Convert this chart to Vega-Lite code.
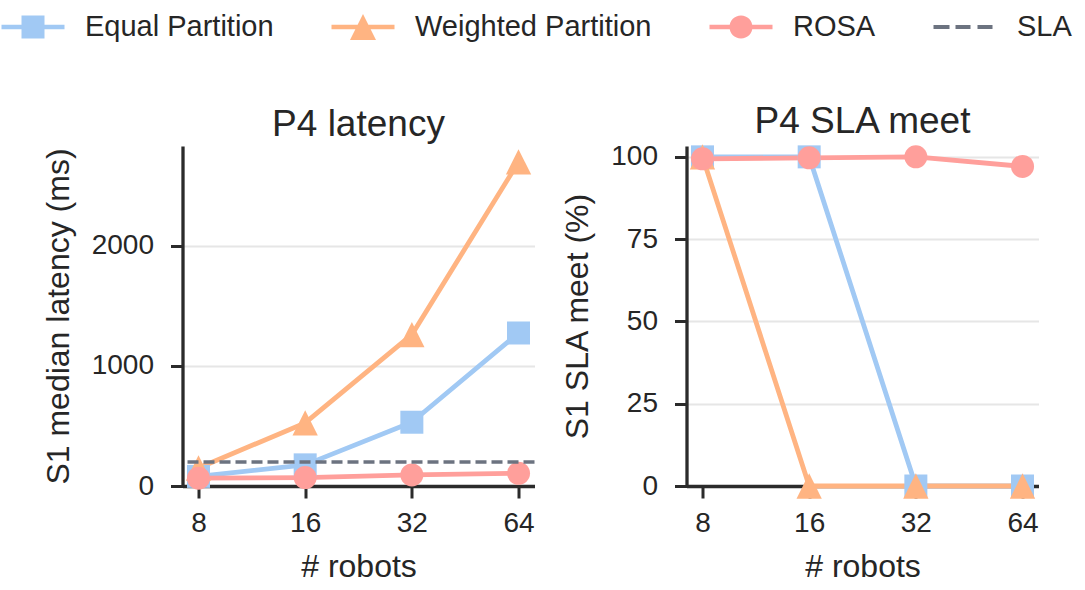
{
  "$schema": "https://vega.github.io/schema/vega-lite/v6.json",
  "background": "white",
  "padding": {"left": 12.5, "top": 7, "right": 5, "bottom": 5},
  "config": {
    "font": "Liberation Sans",
    "view": {"stroke": null},
    "axis": {
      "domainColor": "#2b2b2b",
      "domainWidth": 3.3,
      "tickColor": "#2b2b2b",
      "tickWidth": 3,
      "tickSize": 12,
      "labelFont": "Liberation Sans",
      "labelFontSize": 28,
      "labelColor": "#262626",
      "labelPadding": 14,
      "titleFont": "Liberation Sans",
      "titleFontSize": 32,
      "titleFontWeight": "normal",
      "titleColor": "#262626",
      "gridColor": "#e6e6e6",
      "gridWidth": 2
    },
    "axisX": {"grid": false, "labelPadding": 11, "titlePadding": 14},
    "axisY": {"labelPadding": 17, "titlePadding": 16},
    "title": {
      "font": "Liberation Sans",
      "fontSize": 37,
      "fontWeight": "normal",
      "color": "#262626",
      "offset": 2,
      "baseline": "alphabetic"
    }
  },
  "datasets": {
    "latency": [
      {"series": "Equal Partition", "robots": 8, "ms": 80},
      {"series": "Equal Partition", "robots": 16, "ms": 176},
      {"series": "Equal Partition", "robots": 32, "ms": 531},
      {"series": "Equal Partition", "robots": 64, "ms": 1274},
      {"series": "Weighted Partition", "robots": 8, "ms": 150},
      {"series": "Weighted Partition", "robots": 16, "ms": 525},
      {"series": "Weighted Partition", "robots": 32, "ms": 1260},
      {"series": "Weighted Partition", "robots": 64, "ms": 2698},
      {"series": "ROSA", "robots": 8, "ms": 65},
      {"series": "ROSA", "robots": 16, "ms": 70},
      {"series": "ROSA", "robots": 32, "ms": 92},
      {"series": "ROSA", "robots": 64, "ms": 106}
    ],
    "meet": [
      {"series": "Equal Partition", "robots": 8, "pct": 100},
      {"series": "Equal Partition", "robots": 16, "pct": 100},
      {"series": "Equal Partition", "robots": 32, "pct": 0},
      {"series": "Equal Partition", "robots": 64, "pct": 0},
      {"series": "Weighted Partition", "robots": 8, "pct": 100},
      {"series": "Weighted Partition", "robots": 16, "pct": 0},
      {"series": "Weighted Partition", "robots": 32, "pct": 0},
      {"series": "Weighted Partition", "robots": 64, "pct": 0},
      {"series": "ROSA", "robots": 8, "pct": 99.4},
      {"series": "ROSA", "robots": 16, "pct": 99.7},
      {"series": "ROSA", "robots": 32, "pct": 100},
      {"series": "ROSA", "robots": 64, "pct": 97.1}
    ],
    "sla": [
      {"series": "SLA", "ms": 200}
    ]
  },
  "spacing": 152,
  "bounds": "flush",
  "hconcat": [
    {
      "width": 352,
      "height": 340,
      "title": "P4 latency",
      "layer": [
        {
          "data": {"name": "sla"},
          "transform": [{"filter": "false"}],
          "mark": {"type": "point", "filled": true, "opacity": 1},
          "encoding": {
            "color": {
              "field": "series",
              "type": "nominal",
              "scale": {
                "domain": ["Equal Partition", "Weighted Partition", "ROSA", "SLA"],
                "range": ["#a1c9f4", "#ffb482", "#ff9f9b", "#6c7380"]
              },
              "legend": {
                "title": null,
                "orient": "none",
                "direction": "horizontal",
                "legendX": -169.5,
                "legendY": -139,
                "labelFont": "Liberation Sans",
                "labelFontSize": 29,
                "labelColor": "#262626",
                "labelLimit": 400,
                "labelOffset": 32,
                "columnPadding": 57,
                "symbolSize": 1600,
                "symbolStrokeWidth": 0,
                "symbolOpacity": 1
              }
            },
            "shape": {
              "field": "series",
              "type": "nominal",
              "scale": {
                "domain": ["Equal Partition", "Weighted Partition", "ROSA", "SLA"],
                "range": [
                  "M-1.575,-0.1175H1.575V0.1175H-1.575Z M-0.575,-0.575H0.575V0.575H-0.575Z",
                  "M-1.575,-0.1175H1.575V0.1175H-1.575Z M0,-0.65L0.65,0.65L-0.65,0.65Z",
                  "M-1.575,-0.1175H1.575V0.1175H-1.575Z M-0.575,0A0.575,0.575 0 1,1 0.575,0A0.575,0.575 0 1,1 -0.575,0Z",
                  "M-1.575,-0.1H-0.775V0.1H-1.575Z M-0.475,-0.1H0.275V0.1H-0.475Z M0.625,-0.1H1.375V0.1H0.625Z"
                ]
              },
              "legend": {
                "title": null,
                "orient": "none",
                "direction": "horizontal",
                "legendX": -169.5,
                "legendY": -139,
                "labelFont": "Liberation Sans",
                "labelFontSize": 29,
                "labelColor": "#262626",
                "labelLimit": 400,
                "labelOffset": 32,
                "columnPadding": 57,
                "symbolSize": 1600,
                "symbolStrokeWidth": 0,
                "symbolOpacity": 1
              }
            }
          }
        },
        {
          "data": {"name": "latency"},
          "mark": {"type": "line", "strokeWidth": 4.8, "strokeJoin": "round"},
          "encoding": {
            "x": {
              "field": "robots",
              "type": "quantitative",
              "scale": {"type": "log", "base": 2, "domain": [7.21, 71.0], "nice": false},
              "axis": {"values": [8, 16, 32, 64], "format": "d", "title": "# robots"}
            },
            "y": {
              "field": "ms",
              "type": "quantitative",
              "scale": {"domain": [0, 2831], "nice": false},
              "axis": {"values": [0, 1000, 2000], "format": "d", "title": "S1 median latency (ms)"}
            },
            "color": {"field": "series", "type": "nominal"}
          }
        },
        {
          "data": {"name": "latency"},
          "mark": {"type": "point", "filled": true, "opacity": 1, "size": 529, "strokeWidth": 0},
          "encoding": {
            "x": {"field": "robots", "type": "quantitative"},
            "y": {"field": "ms", "type": "quantitative"},
            "color": {"field": "series", "type": "nominal"},
            "shape": {
              "condition": [
                {"test": "datum.series === 'Equal Partition'", "value": "square"},
                {"test": "datum.series === 'Weighted Partition'", "value": "M0,-1.1L1.1,1.1L-1.1,1.1Z"}
              ],
              "value": "circle"
            }
          }
        },
        {
          "data": {"name": "sla"},
          "mark": {"type": "rule", "strokeWidth": 3.5, "strokeDash": [11, 5]},
          "encoding": {
            "y": {"field": "ms", "type": "quantitative"},
            "color": {"field": "series", "type": "nominal"}
          }
        }
      ]
    },
    {
      "width": 352,
      "height": 340,
      "title": "P4 SLA meet",
      "data": {"name": "meet"},
      "layer": [
        {
          "mark": {"type": "line", "strokeWidth": 4.8, "strokeJoin": "round"},
          "encoding": {
            "x": {
              "field": "robots",
              "type": "quantitative",
              "scale": {"type": "log", "base": 2, "domain": [7.21, 71.0], "nice": false},
              "axis": {"values": [8, 16, 32, 64], "format": "d", "title": "# robots"}
            },
            "y": {
              "field": "pct",
              "type": "quantitative",
              "scale": {"domain": [0, 103.3], "nice": false},
              "axis": {"values": [0, 25, 50, 75, 100], "format": "d", "title": "S1 SLA meet (%)"}
            },
            "color": {"field": "series", "type": "nominal"}
          }
        },
        {
          "mark": {"type": "point", "filled": true, "opacity": 1, "size": 529, "strokeWidth": 0},
          "encoding": {
            "x": {"field": "robots", "type": "quantitative"},
            "y": {"field": "pct", "type": "quantitative"},
            "color": {"field": "series", "type": "nominal"},
            "shape": {
              "condition": [
                {"test": "datum.series === 'Equal Partition'", "value": "square"},
                {"test": "datum.series === 'Weighted Partition'", "value": "M0,-1.1L1.1,1.1L-1.1,1.1Z"}
              ],
              "value": "circle"
            }
          }
        }
      ]
    }
  ]
}
